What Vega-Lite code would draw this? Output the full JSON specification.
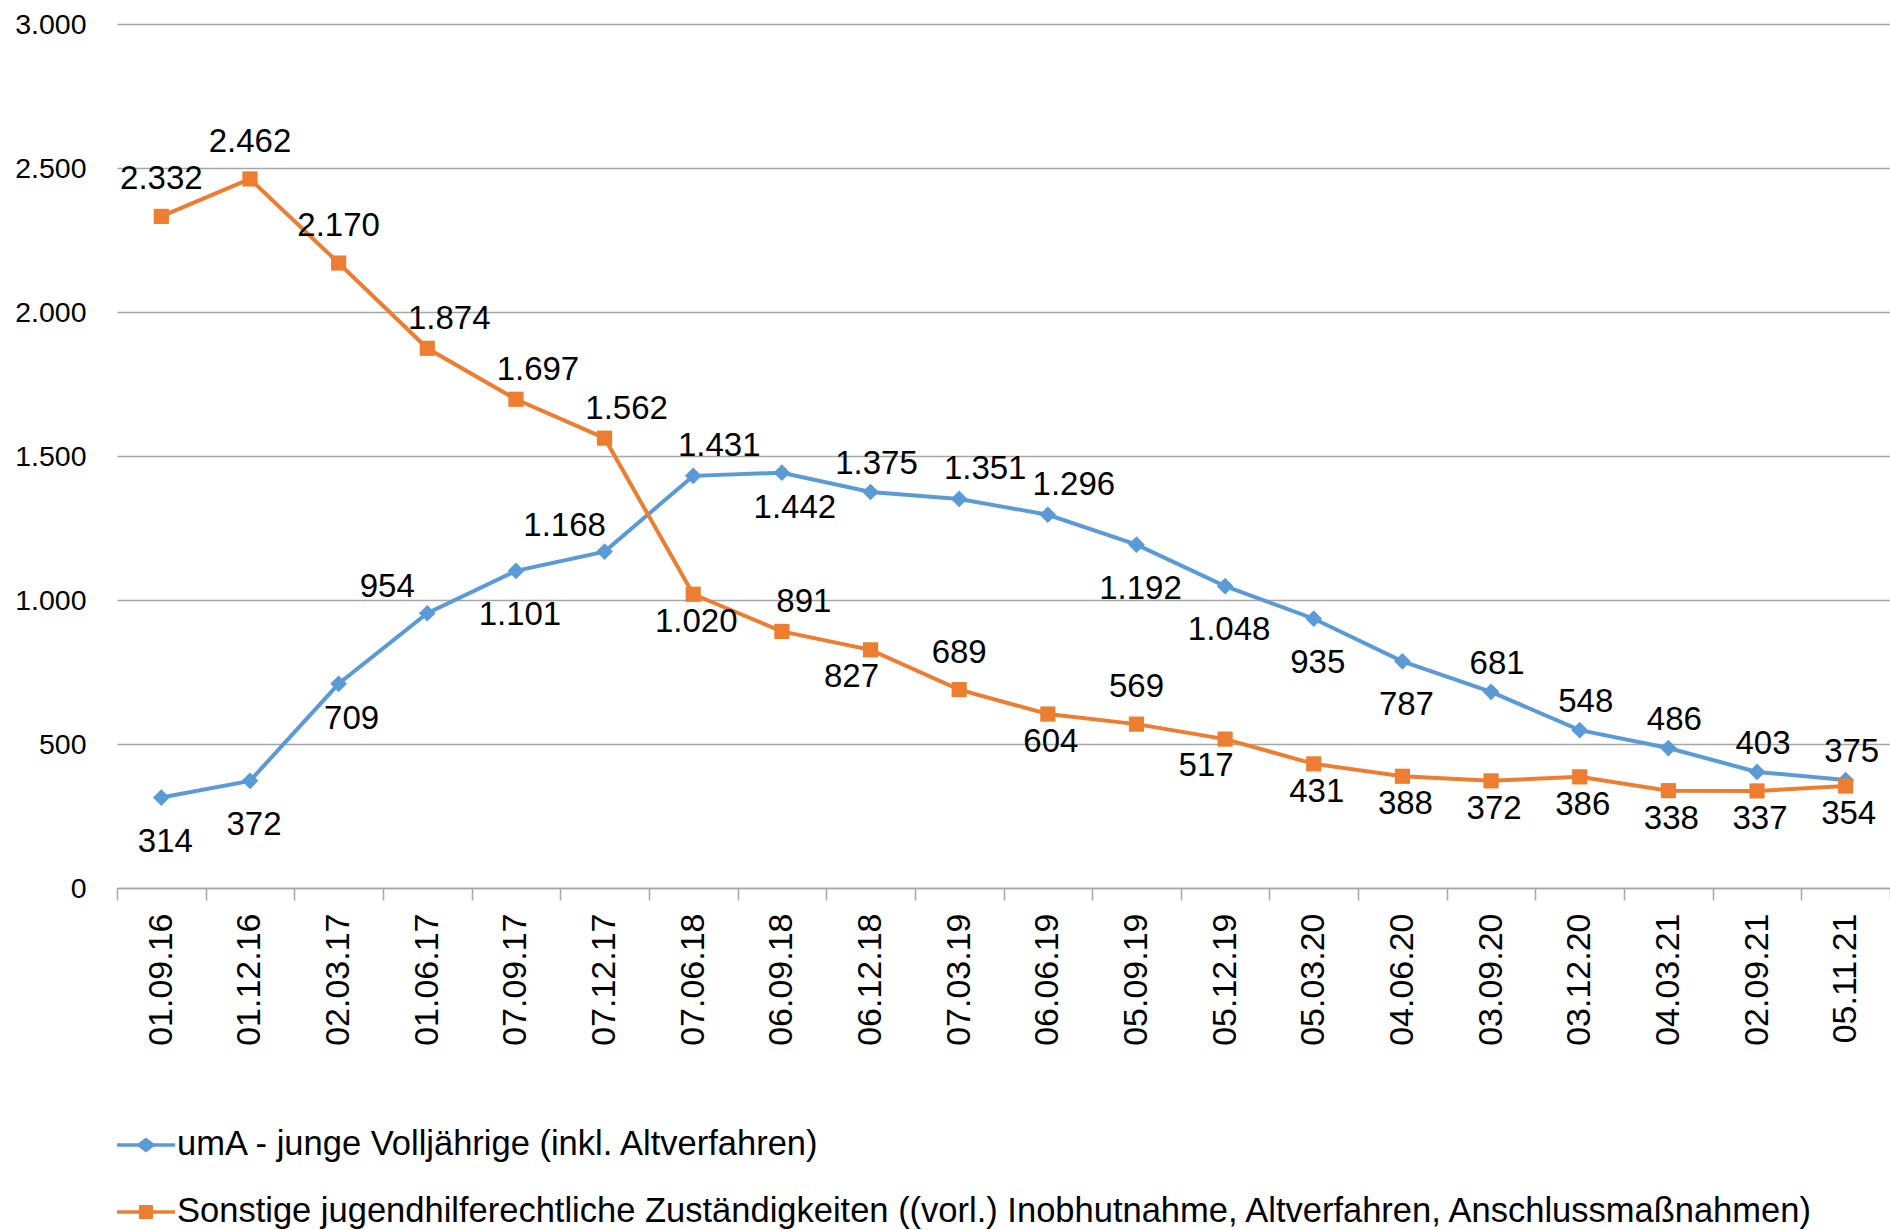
{
  "$schema": "https://vega.github.io/schema/vega-lite/v6.json",
  "autosize": "none",
  "width": 1773,
  "height": 864,
  "padding": {"left": 117, "top": 24, "right": 0, "bottom": 342},
  "background": "white",
  "config": {
    "view": {"stroke": null},
    "locale": {"number": {"decimal": ",", "thousands": ".", "grouping": [3], "currency": ["", " €"]}},
    "font": "Liberation Sans"
  },
  "data": {"values": [
    {"date": "01.09.16", "series": "umA - junge Volljährige (inkl. Altverfahren)", "value": 314},
    {"date": "01.12.16", "series": "umA - junge Volljährige (inkl. Altverfahren)", "value": 372},
    {"date": "02.03.17", "series": "umA - junge Volljährige (inkl. Altverfahren)", "value": 709},
    {"date": "01.06.17", "series": "umA - junge Volljährige (inkl. Altverfahren)", "value": 954},
    {"date": "07.09.17", "series": "umA - junge Volljährige (inkl. Altverfahren)", "value": 1101},
    {"date": "07.12.17", "series": "umA - junge Volljährige (inkl. Altverfahren)", "value": 1168},
    {"date": "07.06.18", "series": "umA - junge Volljährige (inkl. Altverfahren)", "value": 1431},
    {"date": "06.09.18", "series": "umA - junge Volljährige (inkl. Altverfahren)", "value": 1442},
    {"date": "06.12.18", "series": "umA - junge Volljährige (inkl. Altverfahren)", "value": 1375},
    {"date": "07.03.19", "series": "umA - junge Volljährige (inkl. Altverfahren)", "value": 1351},
    {"date": "06.06.19", "series": "umA - junge Volljährige (inkl. Altverfahren)", "value": 1296},
    {"date": "05.09.19", "series": "umA - junge Volljährige (inkl. Altverfahren)", "value": 1192},
    {"date": "05.12.19", "series": "umA - junge Volljährige (inkl. Altverfahren)", "value": 1048},
    {"date": "05.03.20", "series": "umA - junge Volljährige (inkl. Altverfahren)", "value": 935},
    {"date": "04.06.20", "series": "umA - junge Volljährige (inkl. Altverfahren)", "value": 787},
    {"date": "03.09.20", "series": "umA - junge Volljährige (inkl. Altverfahren)", "value": 681},
    {"date": "03.12.20", "series": "umA - junge Volljährige (inkl. Altverfahren)", "value": 548},
    {"date": "04.03.21", "series": "umA - junge Volljährige (inkl. Altverfahren)", "value": 486},
    {"date": "02.09.21", "series": "umA - junge Volljährige (inkl. Altverfahren)", "value": 403},
    {"date": "05.11.21", "series": "umA - junge Volljährige (inkl. Altverfahren)", "value": 375},
    {"date": "01.09.16", "series": "Sonstige jugendhilferechtliche Zuständigkeiten ((vorl.) Inobhutnahme, Altverfahren, Anschlussmaßnahmen)", "value": 2332},
    {"date": "01.12.16", "series": "Sonstige jugendhilferechtliche Zuständigkeiten ((vorl.) Inobhutnahme, Altverfahren, Anschlussmaßnahmen)", "value": 2462},
    {"date": "02.03.17", "series": "Sonstige jugendhilferechtliche Zuständigkeiten ((vorl.) Inobhutnahme, Altverfahren, Anschlussmaßnahmen)", "value": 2170},
    {"date": "01.06.17", "series": "Sonstige jugendhilferechtliche Zuständigkeiten ((vorl.) Inobhutnahme, Altverfahren, Anschlussmaßnahmen)", "value": 1874},
    {"date": "07.09.17", "series": "Sonstige jugendhilferechtliche Zuständigkeiten ((vorl.) Inobhutnahme, Altverfahren, Anschlussmaßnahmen)", "value": 1697},
    {"date": "07.12.17", "series": "Sonstige jugendhilferechtliche Zuständigkeiten ((vorl.) Inobhutnahme, Altverfahren, Anschlussmaßnahmen)", "value": 1562},
    {"date": "07.06.18", "series": "Sonstige jugendhilferechtliche Zuständigkeiten ((vorl.) Inobhutnahme, Altverfahren, Anschlussmaßnahmen)", "value": 1020},
    {"date": "06.09.18", "series": "Sonstige jugendhilferechtliche Zuständigkeiten ((vorl.) Inobhutnahme, Altverfahren, Anschlussmaßnahmen)", "value": 891},
    {"date": "06.12.18", "series": "Sonstige jugendhilferechtliche Zuständigkeiten ((vorl.) Inobhutnahme, Altverfahren, Anschlussmaßnahmen)", "value": 827},
    {"date": "07.03.19", "series": "Sonstige jugendhilferechtliche Zuständigkeiten ((vorl.) Inobhutnahme, Altverfahren, Anschlussmaßnahmen)", "value": 689},
    {"date": "06.06.19", "series": "Sonstige jugendhilferechtliche Zuständigkeiten ((vorl.) Inobhutnahme, Altverfahren, Anschlussmaßnahmen)", "value": 604},
    {"date": "05.09.19", "series": "Sonstige jugendhilferechtliche Zuständigkeiten ((vorl.) Inobhutnahme, Altverfahren, Anschlussmaßnahmen)", "value": 569},
    {"date": "05.12.19", "series": "Sonstige jugendhilferechtliche Zuständigkeiten ((vorl.) Inobhutnahme, Altverfahren, Anschlussmaßnahmen)", "value": 517},
    {"date": "05.03.20", "series": "Sonstige jugendhilferechtliche Zuständigkeiten ((vorl.) Inobhutnahme, Altverfahren, Anschlussmaßnahmen)", "value": 431},
    {"date": "04.06.20", "series": "Sonstige jugendhilferechtliche Zuständigkeiten ((vorl.) Inobhutnahme, Altverfahren, Anschlussmaßnahmen)", "value": 388},
    {"date": "03.09.20", "series": "Sonstige jugendhilferechtliche Zuständigkeiten ((vorl.) Inobhutnahme, Altverfahren, Anschlussmaßnahmen)", "value": 372},
    {"date": "03.12.20", "series": "Sonstige jugendhilferechtliche Zuständigkeiten ((vorl.) Inobhutnahme, Altverfahren, Anschlussmaßnahmen)", "value": 386},
    {"date": "04.03.21", "series": "Sonstige jugendhilferechtliche Zuständigkeiten ((vorl.) Inobhutnahme, Altverfahren, Anschlussmaßnahmen)", "value": 338},
    {"date": "02.09.21", "series": "Sonstige jugendhilferechtliche Zuständigkeiten ((vorl.) Inobhutnahme, Altverfahren, Anschlussmaßnahmen)", "value": 337},
    {"date": "05.11.21", "series": "Sonstige jugendhilferechtliche Zuständigkeiten ((vorl.) Inobhutnahme, Altverfahren, Anschlussmaßnahmen)", "value": 354}
  ]},
  "encoding": {
    "x": {
      "field": "date", "type": "ordinal",
      "sort": ["01.09.16","01.12.16","02.03.17","01.06.17","07.09.17","07.12.17","07.06.18","06.09.18","06.12.18","07.03.19","06.06.19","05.09.19","05.12.19","05.03.20","04.06.20","03.09.20","03.12.20","04.03.21","02.09.21","05.11.21"],
      "scale": {"type": "band", "paddingInner": 0, "paddingOuter": 0},
      "axis": {
        "title": null, "labelAngle": -90, "labelFontSize": 34, "labelColor": "#000000", "labelPadding": 13,
        "tickBand": "extent", "tickSize": 12, "tickColor": "#a6a6a6", "tickWidth": 1.5,
        "domainColor": "#a6a6a6", "domainWidth": 1.5, "grid": false
      }
    },
    "y": {
      "field": "value", "type": "quantitative",
      "scale": {"domain": [0, 3000], "nice": false},
      "axis": {
        "title": null, "values": [0, 500, 1000, 1500, 2000, 2500, 3000], "format": ",d",
        "labelFontSize": 28.5, "labelColor": "#000000", "labelPadding": 31,
        "domain": false, "ticks": false, "grid": true, "gridColor": "#a6a6a6", "gridWidth": 1.5
      }
    }
  },
  "layer": [
    {
      "mark": {"type": "line", "strokeWidth": 4},
      "encoding": {
        "color": {
          "field": "series", "type": "nominal",
          "scale": {
            "domain": ["umA - junge Volljährige (inkl. Altverfahren)", "Sonstige jugendhilferechtliche Zuständigkeiten ((vorl.) Inobhutnahme, Altverfahren, Anschlussmaßnahmen)"],
            "range": ["#5B9BD5", "#ED7D31"]
          },
          "legend": {
            "orient": "none", "legendX": 0, "legendY": 1092, "title": null, "direction": "vertical",
            "symbolSize": 3364, "symbolType": "M-1,-0.06H1V0.06H-1Z", "symbolStrokeWidth": 0,
            "labelFontSize": 34.5, "labelColor": "#000000", "labelOffset": 2, "labelLimit": 0, "rowPadding": 21,
            "encode": {
              "symbols": {
                "update": {
                  "shape": {"signal": "datum.value === 'umA - junge Volljährige (inkl. Altverfahren)' ? 'M-1,-0.06H-0.26L0,-0.26L0.26,-0.06H1V0.06H0.26L0,0.26L-0.26,0.06H-1Z' : 'M-1,-0.06H-0.24V-0.24H0.24V-0.06H1V0.06H0.24V0.24H-0.24V0.06H-1Z'"},
                  "fill": {"signal": "datum.value === 'umA - junge Volljährige (inkl. Altverfahren)' ? '#5B9BD5' : '#ED7D31'"},
                  "fillOpacity": {"value": 1},
                  "opacity": {"value": 1},
                  "strokeWidth": {"value": 0}
                }
              }
            }
          }
        }
      }
    },
    {
      "transform": [{"filter": {"field": "series", "equal": "umA - junge Volljährige (inkl. Altverfahren)"}}],
      "mark": {"type": "point", "shape": "diamond", "filled": true, "opacity": 1, "size": 280},
      "encoding": {"color": {"field": "series", "type": "nominal", "legend": null}}
    },
    {
      "transform": [{"filter": {"field": "series", "equal": "Sonstige jugendhilferechtliche Zuständigkeiten ((vorl.) Inobhutnahme, Altverfahren, Anschlussmaßnahmen)"}}],
      "mark": {"type": "point", "shape": "square", "filled": true, "opacity": 1, "size": 230},
      "encoding": {"color": {"field": "series", "type": "nominal", "legend": null}}
    },
    {
      "transform": [{"filter": {"and": [{"field": "series", "equal": "umA - junge Volljährige (inkl. Altverfahren)"}, {"field": "date", "oneOf": ["01.09.16","01.12.16","07.09.17","05.09.19","05.12.19","05.03.20","04.06.20"]}]}}],
      "mark": {"type": "text", "fontSize": 33, "color": "#000000", "baseline": "middle", "align": "center", "dx": 4, "dy": 44},
      "encoding": {"text": {"field": "value", "type": "quantitative", "format": ",d"}}
    },
    {
      "transform": [{"filter": {"and": [{"field": "series", "equal": "umA - junge Volljährige (inkl. Altverfahren)"}, {"field": "date", "oneOf": ["02.03.17","06.09.18"]}]}}],
      "mark": {"type": "text", "fontSize": 33, "color": "#000000", "baseline": "middle", "align": "center", "dx": 13, "dy": 35},
      "encoding": {"text": {"field": "value", "type": "quantitative", "format": ",d"}}
    },
    {
      "transform": [{"filter": {"and": [{"field": "series", "equal": "umA - junge Volljährige (inkl. Altverfahren)"}, {"field": "date", "oneOf": ["01.06.17","07.12.17"]}]}}],
      "mark": {"type": "text", "fontSize": 33, "color": "#000000", "baseline": "middle", "align": "center", "dx": -40, "dy": -26},
      "encoding": {"text": {"field": "value", "type": "quantitative", "format": ",d"}}
    },
    {
      "transform": [{"filter": {"and": [{"field": "series", "equal": "umA - junge Volljährige (inkl. Altverfahren)"}, {"field": "date", "oneOf": ["06.12.18","03.09.20","03.12.20","04.03.21","02.09.21","05.11.21"]}]}}],
      "mark": {"type": "text", "fontSize": 33, "color": "#000000", "baseline": "middle", "align": "center", "dx": 6, "dy": -28},
      "encoding": {"text": {"field": "value", "type": "quantitative", "format": ",d"}}
    },
    {
      "transform": [{"filter": {"and": [{"field": "series", "equal": "umA - junge Volljährige (inkl. Altverfahren)"}, {"field": "date", "oneOf": ["07.06.18","07.03.19","06.06.19"]}]}}],
      "mark": {"type": "text", "fontSize": 33, "color": "#000000", "baseline": "middle", "align": "center", "dx": 26, "dy": -30},
      "encoding": {"text": {"field": "value", "type": "quantitative", "format": ",d"}}
    },
    {
      "transform": [{"filter": {"and": [{"field": "series", "equal": "Sonstige jugendhilferechtliche Zuständigkeiten ((vorl.) Inobhutnahme, Altverfahren, Anschlussmaßnahmen)"}, {"field": "date", "oneOf": ["01.09.16","01.12.16","02.03.17","07.03.19","05.09.19"]}]}}],
      "mark": {"type": "text", "fontSize": 33, "color": "#000000", "baseline": "middle", "align": "center", "dx": 0, "dy": -37},
      "encoding": {"text": {"field": "value", "type": "quantitative", "format": ",d"}}
    },
    {
      "transform": [{"filter": {"and": [{"field": "series", "equal": "Sonstige jugendhilferechtliche Zuständigkeiten ((vorl.) Inobhutnahme, Altverfahren, Anschlussmaßnahmen)"}, {"field": "date", "oneOf": ["01.06.17","07.09.17","07.12.17","06.09.18"]}]}}],
      "mark": {"type": "text", "fontSize": 33, "color": "#000000", "baseline": "middle", "align": "center", "dx": 22, "dy": -29},
      "encoding": {"text": {"field": "value", "type": "quantitative", "format": ",d"}}
    },
    {
      "transform": [{"filter": {"and": [{"field": "series", "equal": "Sonstige jugendhilferechtliche Zuständigkeiten ((vorl.) Inobhutnahme, Altverfahren, Anschlussmaßnahmen)"}, {"field": "date", "oneOf": ["07.06.18","06.06.19","05.03.20","04.06.20","03.09.20","03.12.20","04.03.21","02.09.21","05.11.21"]}]}}],
      "mark": {"type": "text", "fontSize": 33, "color": "#000000", "baseline": "middle", "align": "center", "dx": 3, "dy": 28},
      "encoding": {"text": {"field": "value", "type": "quantitative", "format": ",d"}}
    },
    {
      "transform": [{"filter": {"and": [{"field": "series", "equal": "Sonstige jugendhilferechtliche Zuständigkeiten ((vorl.) Inobhutnahme, Altverfahren, Anschlussmaßnahmen)"}, {"field": "date", "oneOf": ["06.12.18","05.12.19"]}]}}],
      "mark": {"type": "text", "fontSize": 33, "color": "#000000", "baseline": "middle", "align": "center", "dx": -19, "dy": 27},
      "encoding": {"text": {"field": "value", "type": "quantitative", "format": ",d"}}
    }
  ]
}
